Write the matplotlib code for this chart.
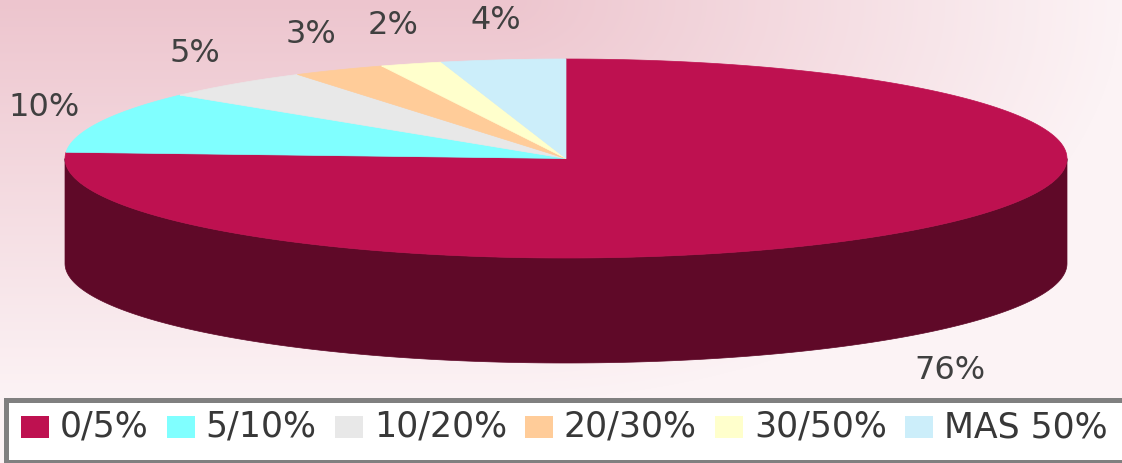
import numpy as np
import matplotlib
matplotlib.use("Agg")
import matplotlib.pyplot as plt
from matplotlib.patches import Polygon, Rectangle
from matplotlib.colors import to_rgb

# share of each range
categories = ["0/5%", "5/10%", "10/20%", "20/30%", "30/50%", "MAS 50%"]
values = [76, 10, 5, 3, 2, 4]
labels = ["76%", "10%", "5%", "3%", "2%", "4%"]
colors = ["#BE1150", "#80FFFF", "#E8E8E8", "#FFCC99", "#FFFFCC", "#CCEEFA"]

W, H = 1122, 463
CX, CY = 566, 158.5      # centre of the top face
RX, RY = 501, 99.5       # ellipse radii
DEPTH = 105              # thickness of the disc
SHADE = 0.5


def ellipse_pts(a0, a1, dy=0.0, n=200):
    t = np.radians(np.linspace(a0, a1, n))
    return np.column_stack([CX + RX * np.cos(t), CY - RY * np.sin(t) + dy])


def main() -> None:
    fig = plt.figure(figsize=(W / 100, H / 100), dpi=100)
    ax = fig.add_axes([0, 0, 1, 1])
    ax.set_xlim(0, W)
    ax.set_ylim(H, 0)
    ax.axis("off")

    # soft pink background, darkest at the upper left
    yy, xx = np.mgrid[0:H, 0:W]
    t = np.clip(np.hypot(yy / 400.0, np.maximum(0, xx - 500) / 620.0), 0, 1)
    c0 = np.array([237, 197, 206]) / 255.0
    c1 = np.array([252, 243, 245]) / 255.0
    bg = c0[None, None, :] * (1 - t[..., None]) + c1[None, None, :] * t[..., None]
    ax.imshow(bg, extent=(0, W, H, 0), zorder=0, aspect="auto")

    total = float(sum(values))
    start = 90.0
    spans = []
    for v in values:
        end = start - 360.0 * v / total
        spans.append((end, start))
        start = end

    # front walls
    for (e, s), col in zip(spans, colors):
        dark = tuple(np.array(to_rgb(col)) * SHADE)
        for k in (-1, 0, 1):
            lo = max(e, k * 360 - 180)
            hi = min(s, k * 360)
            if hi > lo:
                top = ellipse_pts(lo, hi)
                bot = ellipse_pts(hi, lo, dy=DEPTH)
                ax.add_patch(Polygon(np.vstack([top, bot]), closed=True,
                                     facecolor=dark, edgecolor=dark,
                                     lw=0.5, zorder=2))

    # top face wedges
    for (e, s), col in zip(spans, colors):
        arc = ellipse_pts(s, e)
        pts = np.vstack([[CX, CY], arc])
        ax.add_patch(Polygon(pts, closed=True, facecolor=col,
                             edgecolor=col, lw=0.5, zorder=3))

    # percentage labels just outside the rim
    for (e, s), lab in zip(spans, labels):
        mid = np.radians((e + s) / 2)
        lx = CX + (RX + 60) * np.cos(mid)
        ly = CY - (RY + 40) * np.sin(mid)
        if np.sin(mid) < 0:
            ly += DEPTH + 5
        ax.text(lx, ly, lab, ha="center", va="center", fontsize=23,
                color="#404040", zorder=5)

    # legend box
    ax.add_patch(Rectangle((6.5, 400), W, 61.5, facecolor="white",
                           edgecolor="#808080", lw=3.6, zorder=4))
    fig.canvas.draw()
    renderer = fig.canvas.get_renderer()
    x = 21
    for name, col in zip(categories, colors):
        ax.add_patch(Rectangle((x, 416), 28, 22, facecolor=col,
                               edgecolor="none", zorder=5))
        txt = ax.text(x + 39, 427, name, ha="left", va="center",
                      fontsize=25, color="#383838", zorder=5)
        bb = txt.get_window_extent(renderer)
        x = x + 39 + bb.width + 18

    fig.savefig("out.png", dpi=100)


if __name__ == "__main__":
    main()
